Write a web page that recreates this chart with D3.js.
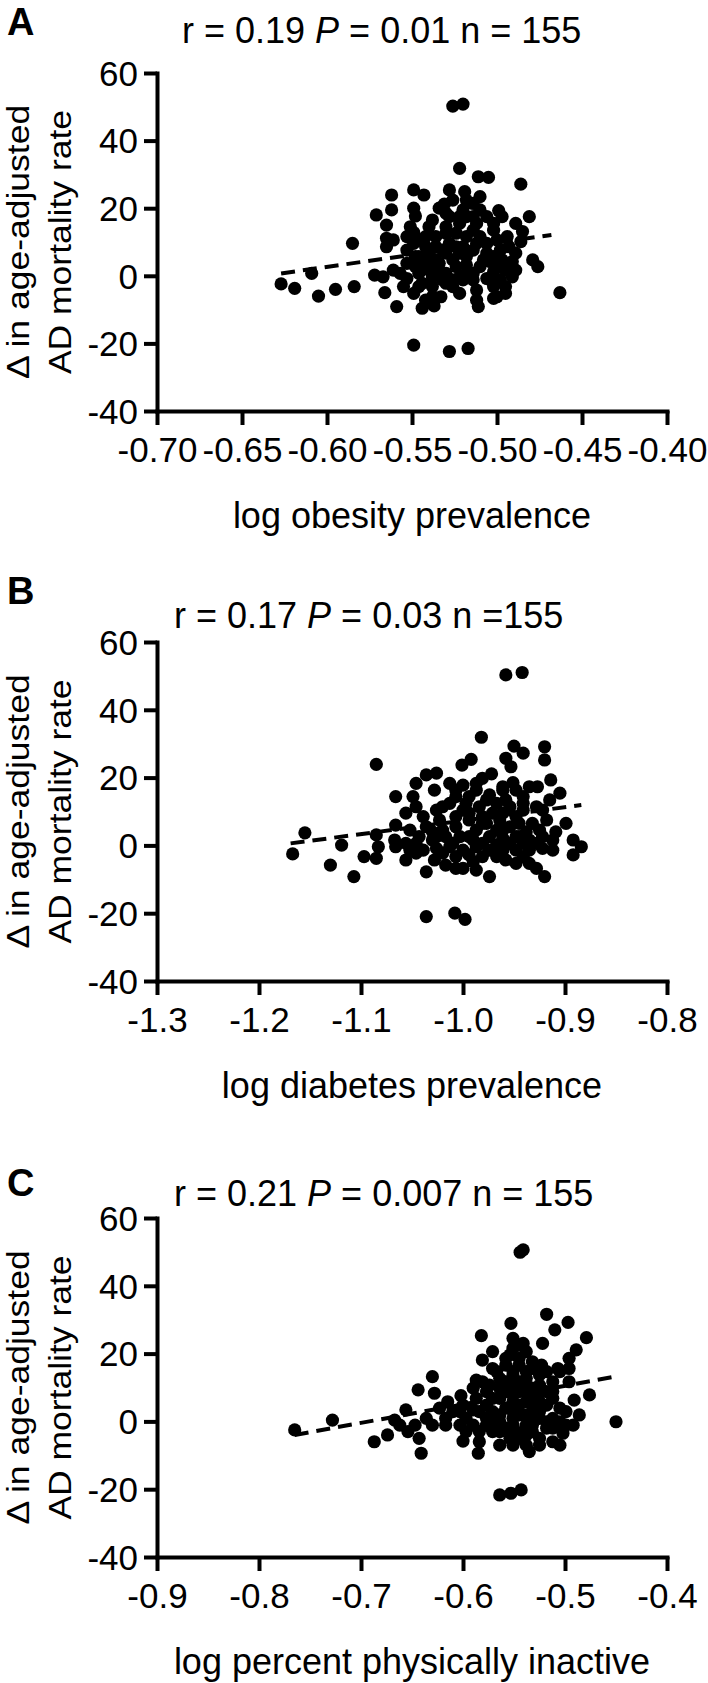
<!DOCTYPE html>
<html><head><meta charset="utf-8">
<script src="https://cdn.jsdelivr.net/npm/d3@7"></script>
<style>
body{margin:0;background:#fff}
svg{display:block}
text{font-family:"Liberation Sans",Arial,Helvetica,sans-serif;fill:#000}
</style>
</head><body>
<svg id="chart" width="708" height="1683"></svg>
<script>
// ---------- shared axis values ----------
const yTicks = [-40, -20, 0, 20, 40, 60];
const yTickLabels = ["-40", "-20", "0", "20", "40", "60"];
const yLabelLines = ["\u0394 in age-adjusted", "AD mortality rate"];

// ---------- Panel A : obesity ----------
const aXTicks = [-0.70, -0.65, -0.60, -0.55, -0.50, -0.45, -0.40];
const aXTickLabels = ["-0.70", "-0.65", "-0.60", "-0.55", "-0.50", "-0.45", "-0.40"];
const aX = [-0.526,-0.520,-0.522,-0.511,-0.505,-0.486,-0.562,-0.549,-0.543,-0.528,
-0.519,-0.510,-0.562,-0.571,-0.549,-0.548,-0.534,-0.531,-0.514,-0.520,
-0.499,-0.497,-0.481,-0.565,-0.565,-0.561,-0.565,-0.549,-0.540,-0.528,
-0.522,-0.512,-0.502,-0.489,-0.485,-0.585,-0.553,-0.546,-0.536,-0.530,
-0.518,-0.506,-0.494,-0.486,-0.548,-0.540,-0.532,-0.524,-0.514,-0.506,
-0.498,-0.489,-0.479,-0.476,-0.553,-0.542,-0.534,-0.526,-0.518,-0.510,
-0.502,-0.495,-0.489,-0.572,-0.561,-0.553,-0.546,-0.538,-0.530,-0.522,
-0.514,-0.506,-0.498,-0.491,-0.609,-0.627,-0.619,-0.605,-0.595,-0.584,
-0.566,-0.549,-0.538,-0.530,-0.520,-0.512,-0.502,-0.495,-0.559,-0.544,
-0.537,-0.533,-0.511,-0.463,-0.549,-0.528,-0.517,-0.553,-0.542,-0.522,
-0.536,-0.528,-0.510,-0.500,-0.518,-0.544,-0.526,-0.555,-0.504,-0.497,
-0.530,-0.518,-0.506,-0.538,-0.524,-0.514,-0.542,-0.549,-0.532,-0.524,
-0.540,-0.548,-0.508,-0.502,-0.493,-0.522,-0.538,-0.502,-0.514,-0.530,
-0.510,-0.502,-0.526,-0.518,-0.551,-0.567,-0.557,-0.534,-0.546,-0.520,
-0.512,-0.498,-0.491,-0.518,-0.526,-0.536,-0.504,-0.495,-0.500,-0.512,
-0.542,-0.546,-0.522,-0.530,-0.514];
const aY = [50.2,50.8,31.8,29.3,29.1,27.1,23.9,25.4,23.9,25.4,
24.9,23.4,19.5,18.0,20.0,17.7,20.0,21.2,21.4,19.5,
19.3,17.5,17.5,15.0,11.1,10.6,8.6,12.8,14.5,17.5,
15.5,15.5,13.5,15.5,13.1,9.6,7.6,10.6,11.6,12.6,
11.6,9.6,11.6,10.1,5.7,6.7,7.6,8.6,7.6,6.7,
7.6,6.7,4.7,2.7,3.7,3.7,3.7,4.7,3.2,2.7,
1.2,1.7,1.7,0.2,1.7,-0.8,0.7,-0.3,0.7,-0.3,
0.7,-0.8,-1.2,-0.3,0.7,-2.4,-3.7,-6.0,-4.0,-3.2,
-5.0,-5.2,-3.2,-2.2,-1.2,-4.2,-6.7,-3.2,-9.1,-9.6,
-8.9,-6.2,-9.1,-5.0,-20.5,-22.4,-21.5,11.6,8.6,6.7,
8.6,9.6,11.6,10.6,5.7,-2.2,-3.2,-3.2,4.2,4.7,
14.5,17.5,17.5,16.5,12.6,13.5,11.6,9.6,-1.2,2.7,
1.7,2.7,4.7,5.7,8.6,-5.2,-6.2,-3.2,-1.2,6.7,
19.5,15.5,22.4,22.4,14.5,-0.3,0.7,1.7,5.7,8.6,
9.6,2.7,4.2,0.7,-1.2,4.7,-1.2,-5.2,-6.2,-7.2,
-7.2,-3.2,17.5,18.5,17.5];
const aFitX = [-0.627, -0.468];
const aFitY = [0.7, 12.1];

// ---------- Panel B : diabetes ----------
const bXTicks = [-1.3, -1.2, -1.1, -1.0, -0.9, -0.8];
const bXTickLabels = ["-1.3", "-1.2", "-1.1", "-1.0", "-0.9", "-0.8"];
const bX = [-0.958,-0.942,-0.982,-0.950,-0.941,-0.920,-0.920,-1.085,-1.001,-0.992,
-0.958,-0.953,-1.046,-1.036,-1.026,-1.066,-0.981,-0.972,-0.951,-0.935,
-0.927,-0.914,-0.905,-1.049,-1.028,-1.013,-1.000,-0.987,-0.974,-0.961,
-0.941,-1.056,-1.046,-1.026,-1.013,-0.997,-0.984,-0.967,-0.954,-0.941,
-0.928,-1.066,-1.052,-1.036,-1.023,-1.007,-0.994,-0.981,-0.964,-0.948,
-0.932,-0.918,-0.899,-1.155,-1.119,-1.085,-1.097,-1.085,-1.083,-1.067,
-1.056,-1.043,-1.030,-1.017,-1.003,-0.990,-0.974,-0.961,-0.948,-0.935,
-0.922,-0.912,-0.892,-0.884,-1.167,-1.130,-1.107,-1.056,-1.046,-1.026,
-1.013,-1.000,-0.987,-0.974,-0.961,-0.948,-0.935,-0.922,-0.892,-1.036,
-1.028,-1.017,-1.000,-0.990,-0.974,-0.958,-0.941,-0.928,-0.920,-1.036,
-1.008,-0.998,-1.039,-1.020,-1.007,-0.994,-0.977,-0.958,-0.994,-0.977,
-0.961,-0.945,-1.020,-1.007,-0.987,-0.967,-0.954,-0.938,-0.925,-1.030,
-1.010,-0.994,-0.981,-0.967,-0.954,-0.941,-0.928,-0.909,-1.046,-1.026,
-1.020,-0.981,-0.967,-1.007,-0.948,-0.994,-0.961,-0.987,-1.007,-0.948,
-0.941,-0.922,-0.915,-0.971,-1.000,-0.981,-0.961,-0.945,-1.039,-1.052,
-1.066,-0.912,-0.935,-1.007,-0.987];
const bY = [50.3,51.0,31.9,29.3,27.2,29.1,25.2,23.9,23.7,25.4,
25.7,23.2,18.3,20.8,21.3,14.4,19.8,21.1,18.5,17.3,
17.3,19.3,15.4,14.4,16.3,18.3,17.8,16.3,14.9,16.3,
14.4,9.5,11.4,10.4,12.4,12.4,11.4,12.4,11.4,10.4,
11.4,6.0,4.5,5.5,7.5,8.5,7.5,8.5,7.5,8.5,
6.5,7.5,6.5,3.7,0.1,3.1,-3.3,-3.8,-0.4,1.6,
0.6,2.6,1.6,2.6,2.6,1.6,2.6,2.1,2.6,1.6,
2.6,1.6,1.6,-0.4,-2.5,-5.8,-9.2,-4.3,-2.3,-0.9,
-0.4,-1.4,-0.4,-1.4,-1.4,-1.4,-1.4,-0.9,-2.8,-7.8,
-4.3,-5.8,-6.8,-4.8,-9.2,-4.3,-3.3,-6.8,-9.2,-21.0,
-20.0,-21.8,8.5,11.4,14.4,14.4,13.4,13.4,9.5,6.5,
9.5,6.5,4.5,5.5,4.5,4.5,5.5,4.0,4.5,4.0,
0.6,2.6,0.6,0.1,0.6,0.6,0.6,4.0,0.6,2.6,
-2.3,-3.3,-3.3,-3.3,-5.3,-2.8,17.3,18.3,16.3,16.3,
12.4,10.4,13.4,9.5,10.4,6.5,4.5,2.6,-1.4,-1.4,
-0.4,-1.4,-5.3,-6.8,-7.3];
const bFitX = [-1.169, -0.884];
const bFitY = [0.6, 11.9];

// ---------- Panel C : physical inactivity ----------
const cXTicks = [-0.9, -0.8, -0.7, -0.6, -0.5, -0.4];
const cXTickLabels = ["-0.9", "-0.8", "-0.7", "-0.6", "-0.5", "-0.4"];
const cX = [-0.541,-0.544,-0.553,-0.518,-0.497,-0.510,-0.479,-0.582,-0.551,-0.541,
-0.522,-0.571,-0.581,-0.554,-0.538,-0.489,-0.496,-0.630,-0.587,-0.571,
-0.558,-0.545,-0.532,-0.523,-0.507,-0.644,-0.628,-0.615,-0.602,-0.587,
-0.574,-0.564,-0.551,-0.538,-0.525,-0.512,-0.496,-0.476,-0.491,-0.656,
-0.667,-0.636,-0.617,-0.603,-0.590,-0.577,-0.564,-0.551,-0.538,-0.525,
-0.512,-0.505,-0.486,-0.728,-0.765,-0.687,-0.674,-0.654,-0.647,-0.643,
-0.641,-0.600,-0.584,-0.585,-0.577,-0.564,-0.551,-0.538,-0.525,-0.512,
-0.499,-0.450,-0.548,-0.538,-0.525,-0.505,-0.502,-0.535,-0.545,-0.518,
-0.564,-0.553,-0.543,-0.597,-0.610,-0.623,-0.584,-0.571,-0.558,-0.545,
-0.532,-0.518,-0.564,-0.551,-0.538,-0.525,-0.577,-0.590,-0.532,-0.545,
-0.558,-0.571,-0.558,-0.532,-0.518,-0.551,-0.538,-0.558,-0.545,-0.532,
-0.518,-0.551,-0.545,-0.567,-0.581,-0.600,-0.577,-0.564,-0.551,-0.538,
-0.525,-0.512,-0.564,-0.554,-0.532,-0.499,-0.492,-0.505,-0.551,-0.590,
-0.603,-0.617,-0.630,-0.662,-0.545,-0.532,-0.518,-0.558,-0.571,-0.551,
-0.538,-0.525,-0.512,-0.505,-0.496,-0.545,-0.532,-0.571,-0.584,-0.597,
-0.525,-0.512,-0.538,-0.564,-0.551];
const cY = [50.6,49.9,28.9,31.6,29.2,27.0,24.7,25.3,24.5,23.0,
23.0,20.6,18.1,19.6,20.6,21.1,18.6,13.2,12.2,15.6,
16.6,16.6,17.6,16.6,15.6,9.3,8.3,5.8,7.6,6.8,
10.7,12.7,13.7,12.7,13.7,11.7,11.7,7.8,6.3,3.4,
0.4,0.9,0.9,2.9,3.4,4.8,6.8,7.8,8.8,8.8,
6.8,3.9,1.9,0.4,-2.5,-6.0,-4.0,-3.0,-1.1,-5.0,
-9.4,-5.8,-6.0,-9.4,-1.1,-0.1,0.9,1.9,0.9,0.9,
-1.1,-0.1,-3.0,-7.0,-5.0,-7.0,-3.5,-8.9,-5.0,-2.0,
-21.7,-21.2,-20.2,0.9,2.9,3.9,2.9,2.9,3.9,4.8,
4.8,4.8,9.8,10.7,10.7,10.7,8.8,9.8,6.8,8.8,
8.8,-3.0,-2.0,-1.1,-0.1,14.7,14.7,18.6,18.6,15.6,
14.7,21.6,22.5,14.7,11.7,4.8,0.9,1.9,2.9,-1.1,
2.9,-2.0,-3.0,-5.0,-3.0,2.9,-1.1,-0.1,-1.1,-1.1,
-1.1,-1.1,-1.1,-1.1,11.7,9.8,8.8,11.7,6.8,5.8,
5.8,5.8,8.8,14.7,15.6,1.9,1.9,-0.1,-3.0,-3.0,
-7.0,-6.0,-4.0,-7.0,-7.0];
const cFitX = [-0.765, -0.451];
const cFitY = [-4.0, 13.2];

// ---------- layout ----------
const panels = [
  {letter:"A", xs:aX, ys:aY, fx:aFitX, fy:aFitY, ticks:aXTicks, tickLabels:aXTickLabels,
   title:[["r = 0.19 ",false],["P",true],[" = 0.01 n = 155",false]],
   xlabel:"log obesity prevalence", top:73, bottom:411, titleY:43, titleX:182, letterY:35},
  {letter:"B", xs:bX, ys:bY, fx:bFitX, fy:bFitY, ticks:bXTicks, tickLabels:bXTickLabels,
   title:[["r = 0.17 ",false],["P",true],[" = 0.03 n =155",false]],
   xlabel:"log diabetes prevalence", top:642, bottom:981, titleY:628, titleX:174, letterY:604},
  {letter:"C", xs:cX, ys:cY, fx:cFitX, fy:cFitY, ticks:cXTicks, tickLabels:cXTickLabels,
   title:[["r = 0.21 ",false],["P",true],[" = 0.007 n = 155",false]],
   xlabel:"log percent physically inactive", top:1218, bottom:1557, titleY:1206, titleX:174, letterY:1196}
];

const left = 157, right = 667;
const svg = d3.select("#chart");
svg.append("rect").attr("width",708).attr("height",1683).attr("fill","#fff");

panels.forEach(p => {
  const x = d3.scaleLinear().domain([p.ticks[0], p.ticks[p.ticks.length-1]]).range([left, right]);
  const y = d3.scaleLinear().domain([-40, 60]).range([p.bottom, p.top]);
  const g = svg.append("g");

  const ya = g.append("g").attr("transform", `translate(${left},0)`)
    .call(d3.axisLeft(y).tickValues(yTicks).tickSize(13).tickSizeOuter(0).tickPadding(6)
      .tickFormat((d,i) => yTickLabels[i]));
  const xa = g.append("g").attr("transform", `translate(0,${p.bottom})`)
    .call(d3.axisBottom(x).tickValues(p.ticks).tickSize(14).tickSizeOuter(0)
      .tickFormat((d,i) => p.tickLabels[i]));
  [ya, xa].forEach(a => {
    a.select(".domain").attr("stroke","#000").attr("stroke-width",4).attr("stroke-linecap","square");
    a.selectAll(".tick line").attr("stroke","#000").attr("stroke-width",4);
    a.selectAll(".tick text").attr("font-size",35).attr("fill","#000")
      .style("font-family",'"Liberation Sans",Arial,sans-serif');
  });
  ya.selectAll(".tick text").attr("dy","0.35em");
  xa.selectAll(".tick text").attr("y",51).attr("dy",0);

  g.append("g").selectAll("circle").data(p.xs.map((v,i)=>[v,p.ys[i]])).join("circle")
    .attr("cx", d => x(d[0])).attr("cy", d => y(d[1])).attr("r", 6.6).attr("fill","#000");

  g.append("line")
    .attr("x1", x(p.fx[0])).attr("y1", y(p.fy[0]))
    .attr("x2", x(p.fx[1])).attr("y2", y(p.fy[1]))
    .attr("stroke","#000").attr("stroke-width",4).attr("stroke-dasharray","14 8");

  const t = g.append("text").attr("x", p.titleX).attr("y", p.titleY).attr("font-size",36);
  p.title.forEach(([s,it]) => t.append("tspan").text(s).attr("font-style", it ? "italic" : "normal"));

  g.append("text").attr("x",7).attr("y",p.letterY).attr("font-size",38).attr("font-weight","bold").text(p.letter);

  g.append("text").attr("x",(left+right)/2).attr("y",p.bottom+117).attr("text-anchor","middle")
    .attr("font-size",36).text(p.xlabel);

  const cy = (p.top + p.bottom)/2;
  [29, 71].forEach((bx, i) => {
    g.append("text").attr("transform", `translate(${bx},${cy}) rotate(-90) scale(1,0.88)`)
      .attr("text-anchor","middle").attr("font-size",35.5).text(yLabelLines[i]);
  });
});
</script>
</body></html>
